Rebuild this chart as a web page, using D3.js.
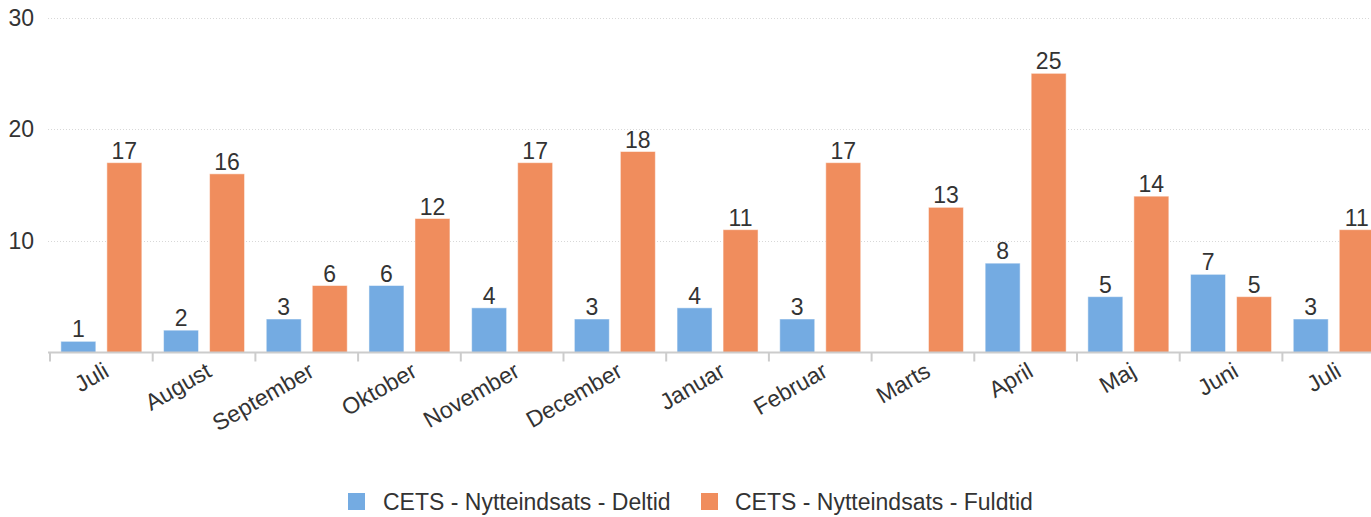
<!DOCTYPE html>
<html>
<head>
<meta charset="utf-8">
<script src="https://cdn.jsdelivr.net/npm/d3@7"></script>
<style>
  body { margin: 0; background: #fff; }
  svg { display: block; font-family: 'Liberation Sans', Arial, sans-serif; }
  text { fill: #333; }
</style>
</head>
<body>
<svg id="chart" width="1371" height="517"></svg>
<script>
// data
const months = ['Juli', 'August', 'September', 'Oktober', 'November', 'December',
  'Januar', 'Februar', 'Marts', 'April', 'Maj', 'Juni', 'Juli'];
const deltid = [1, 2, 3, 6, 4, 3, 4, 3, null, 8, 5, 7, 3];
const fuldtid = [17, 16, 6, 12, 17, 18, 11, 17, 13, 25, 14, 5, 11];
const seriesNames = ['CETS - Nytteindsats - Deltid', 'CETS - Nytteindsats - Fuldtid'];
const colors = ['#74abe2', '#f08d5d'];
const yTicks = [10, 20, 30];

const svg = d3.select('#chart');
const W = 1371;

// plot is wider than the window, last bar gets cut off like in the original
const x0 = d3.scaleBand().domain(d3.range(months.length)).range([50, 50 + 13 * 102.7]);
const x1 = d3.scaleBand().domain([0, 1]).range([0, x0.bandwidth()]).paddingInner(0.24).paddingOuter(0.236);
const y = d3.scaleLinear().domain([0, 30]).range([352.5, 17.5]);

// grid
svg.append('g')
  .selectAll('line')
  .data(yTicks)
  .join('line')
  .attr('x1', 48).attr('x2', W)
  .attr('y1', d => Math.round(y(d)) + 0.5).attr('y2', d => Math.round(y(d)) + 0.5)
  .attr('stroke', '#d8d8d8')
  .attr('stroke-dasharray', '1,2');

// y labels
svg.append('g')
  .selectAll('text')
  .data(yTicks)
  .join('text')
  .attr('x', 34)
  .attr('y', d => y(d) + 8)
  .attr('text-anchor', 'end')
  .style('font-size', '23px')
  .text(d => d);

// bars
const groups = svg.append('g')
  .selectAll('g')
  .data(months.map((m, i) => i))
  .join('g')
  .attr('transform', i => `translate(${x0(i)},0)`);

const vals = i => [deltid[i], fuldtid[i]];

groups.selectAll('rect')
  .data(i => vals(i).map((v, s) => ({ v, s })).filter(d => d.v != null))
  .join('rect')
  .attr('x', d => x1(d.s))
  .attr('width', x1.bandwidth())
  .attr('y', d => y(d.v))
  .attr('height', d => y(0) - y(d.v))
  .attr('fill', d => colors[d.s])
  .attr('stroke', '#fff')
  .attr('stroke-opacity', 0.5)
  .attr('stroke-width', 1);

groups.selectAll('text')
  .data(i => vals(i).map((v, s) => ({ v, s })).filter(d => d.v != null))
  .join('text')
  .attr('x', d => x1(d.s) + x1.bandwidth() / 2)
  .attr('y', d => y(d.v) - 4)
  .attr('text-anchor', 'middle')
  .style('font-size', '23px')
  .text(d => d.v);

// x axis
const axis = svg.append('g');
axis.append('line')
  .attr('x1', 48).attr('x2', W)
  .attr('y1', y(0)).attr('y2', y(0))
  .attr('stroke', '#ccc')
  .attr('stroke-width', 2);

axis.selectAll('.tick')
  .data(d3.range(months.length + 1))
  .join('line')
  .attr('x1', i => x0.step() * i + 50).attr('x2', i => x0.step() * i + 50)
  .attr('y1', y(0)).attr('y2', y(0) + 9)
  .attr('stroke', '#ccc')
  .attr('stroke-width', 2);

axis.selectAll('text')
  .data(months.map((m, i) => i))
  .join('text')
  .attr('transform', i => `translate(${x0(i) + x0.bandwidth() / 2 + 9},${y(0) + 23}) rotate(-30)`)
  .attr('text-anchor', 'end')
  .style('font-size', '23px')
  .text(i => months[i]);

// legend
const legend = svg.append('g').attr('transform', 'translate(348,493)');
const item1 = legend.append('g');
item1.append('rect').attr('width', 17).attr('height', 17).attr('fill', colors[0]);
item1.append('text').attr('x', 35).attr('y', 17).style('font-size', '23px').text(seriesNames[0]);
const item2 = legend.append('g').attr('transform', 'translate(353,0)');
item2.append('rect').attr('width', 17).attr('height', 17).attr('fill', colors[1]);
item2.append('text').attr('x', 34).attr('y', 17).style('font-size', '23px').text(seriesNames[1]);
</script>
</body>
</html>
